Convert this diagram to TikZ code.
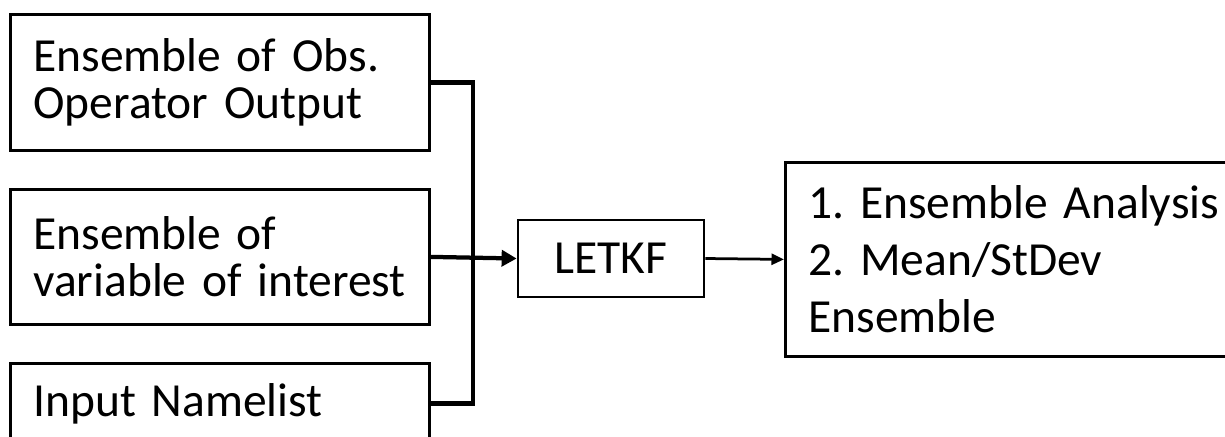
\documentclass[tikz,border=0pt]{standalone}
\usepackage{fontspec}
\setmainfont{Carlito}[WordSpace=0.9]
\usepackage{tikz}
\usetikzlibrary{arrows.meta,positioning}
\frenchspacing

\begin{document}
\begin{tikzpicture}[x=0.4pt,y=-0.4pt,
  inbox/.style={rectangle,draw,line width=1.1pt,anchor=north west,minimum width=167.6pt,text width=149.2pt,inner xsep=9.2pt,inner ysep=0pt,align=left,font=\fontsize{19}{18.8}\selectfont},
  outbox/.style={rectangle,draw,line width=1.1pt,anchor=north west,minimum width=193.4pt,minimum height=77.6pt,text width=175pt,inner xsep=9.2pt,inner ysep=0pt,align=left,font=\fontsize{19}{22.8}\selectfont},
  bus/.style={line width=1.7pt,line join=miter}]
\useasboundingbox (0,0) rectangle (1225,436);
\clip (0,0) rectangle (1225,436);
\node[inbox,minimum height=54.4pt] (obs) at (9,13) {Ensemble of Obs.\\Operator Output};
\node[inbox,minimum height=54pt] (var) at (9,188) {Ensemble of\\variable of interest};
\node[inbox,minimum height=32pt] (nml) at (9,362) {Input Namelist};
\node[rectangle,draw,line width=1.1pt,minimum width=74.4pt,minimum height=30.8pt,font=\fontsize{19}{22.8}\selectfont] (letkf) at (611,258.5) {LETKF};
\node[outbox] (ana) at (784,161) {1. Ensemble Analysis\\2. Mean/StDev\\Ensemble};
\coordinate (join) at (473,81);
\draw[bus] (obs.east) -| (join |- nml.east) -- (nml.east);
\draw[bus,-{Triangle[length=6pt,width=6.4pt]}] (var.east) -- (letkf.west);
\draw[line width=1.1pt,-{Triangle[length=5pt,width=4.4pt]}] (letkf.east) -- (ana.west);
\end{tikzpicture}
\end{document}
